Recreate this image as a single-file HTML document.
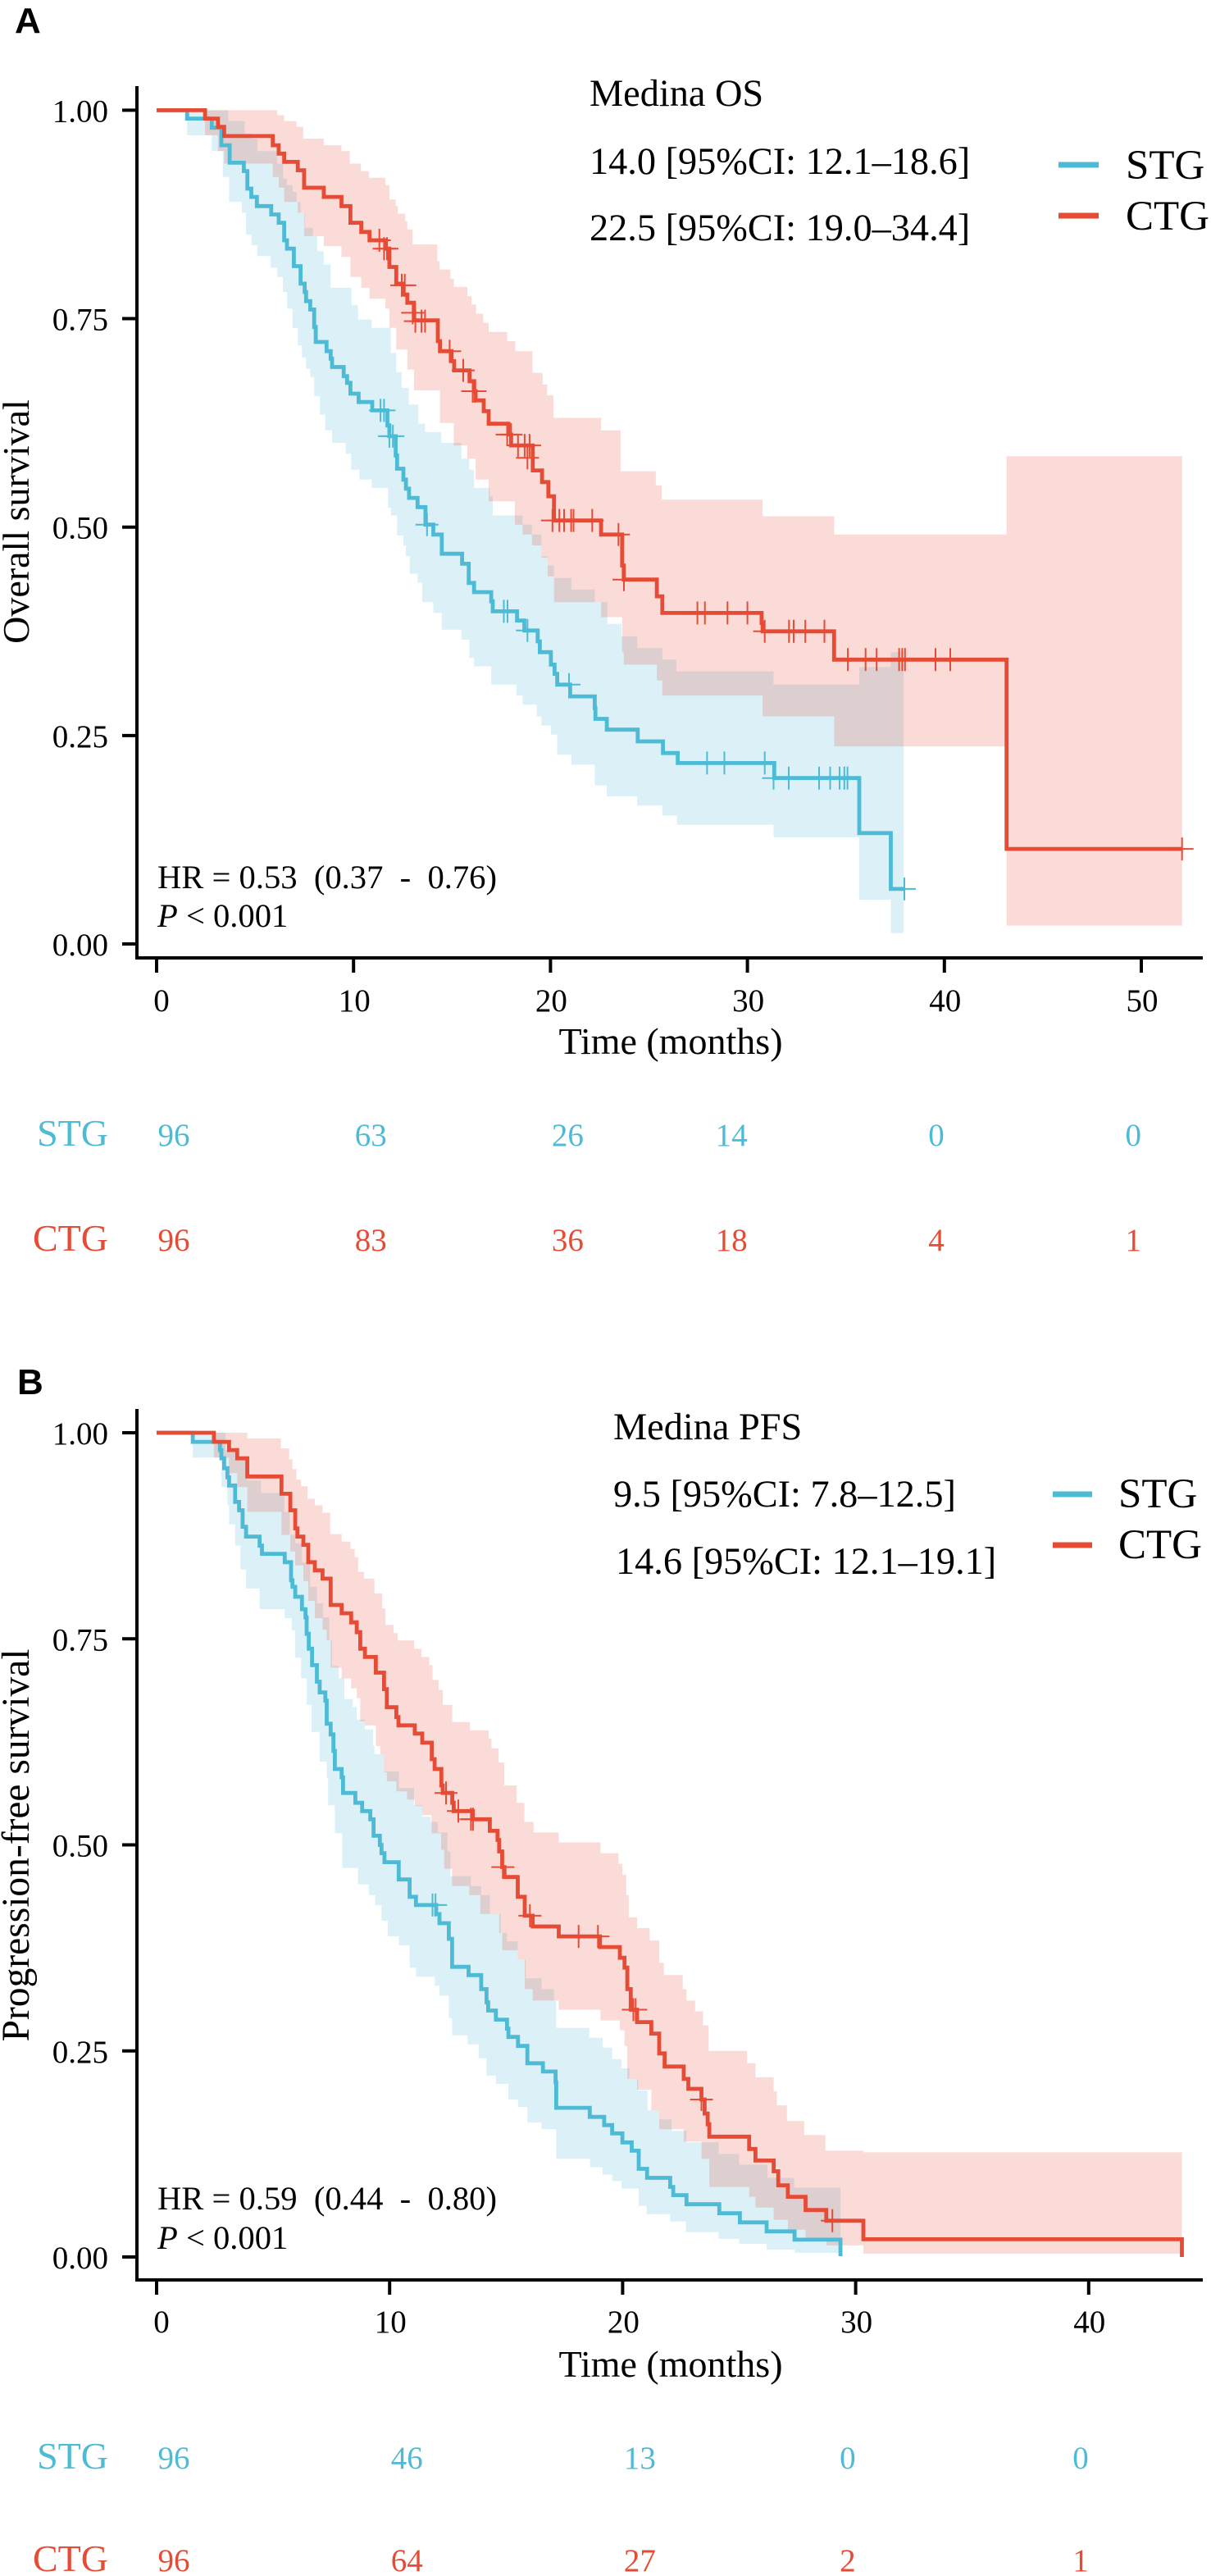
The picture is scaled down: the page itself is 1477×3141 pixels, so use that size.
<!DOCTYPE html>
<html lang="en">
<head>
<meta charset="utf-8">
<title>Kaplan-Meier survival curves</title>
<style>
html,body{margin:0;padding:0;background:#fff;}
svg{display:block;}
text{font-family:"Liberation Serif",serif;fill:#000;white-space:pre;}
</style>
</head>
<body>
<svg id="figure" xmlns="http://www.w3.org/2000/svg" width="1477" height="3141" viewBox="0 0 1477 3141">
  <rect x="0" y="0" width="1477" height="3141" fill="#fff"/>
  <text x="18" y="40" style="font-family:'Liberation Sans',sans-serif;font-weight:700;font-size:44px">A</text>
  <text x="21" y="1700" style="font-family:'Liberation Sans',sans-serif;font-weight:700;font-size:44px">B</text>

  <g id="panel-a"></g>
  <g id="panel-b"></g>

  <text transform="translate(35,636) rotate(-90)" text-anchor="middle" font-size="46">Overall survival</text>
  <text x="818" y="1285" text-anchor="middle" font-size="46">Time (months)</text>
  <text x="719" y="129" font-size="46.3">Medina OS</text>
  <text x="719" y="212" font-size="46.3">14.0 [95%CI: 12.1–18.6]</text>
  <text x="719" y="293" font-size="46.3">22.5 [95%CI: 19.0–34.4]</text>
  <line x1="1291" x2="1340" y1="201" y2="201" stroke="#4DBBD5" stroke-width="7"/>
  <line x1="1291" x2="1340" y1="263" y2="263" stroke="#E64B35" stroke-width="7"/>
  <text x="1373" y="218" font-size="51">STG</text>
  <text x="1373" y="280" font-size="51">CTG</text>
  <text x="192" y="1083" font-size="40.6">HR = 0.53  (0.37  -  0.76)</text>
  <text x="192" y="1130" font-size="40.6"><tspan font-style="italic">P</tspan> &lt; 0.001</text>
  <text x="132" y="1397" text-anchor="end" font-size="46" style="fill:#4DBBD5">STG</text>
  <text x="132" y="1525" text-anchor="end" font-size="46" style="fill:#E64B35">CTG</text>

  <text transform="translate(35,2250) rotate(-90)" text-anchor="middle" font-size="47.5">Progression-free survival</text>
  <text x="818" y="2898" text-anchor="middle" font-size="46">Time (months)</text>
  <text x="748" y="1755" font-size="46.3">Medina PFS</text>
  <text x="748" y="1837" font-size="46.3">9.5 [95%CI: 7.8–12.5]</text>
  <text x="751" y="1919" font-size="46.3">14.6 [95%CI: 12.1–19.1]</text>
  <line x1="1284" x2="1332" y1="1822" y2="1822" stroke="#4DBBD5" stroke-width="7"/>
  <line x1="1284" x2="1332" y1="1884" y2="1884" stroke="#E64B35" stroke-width="7"/>
  <text x="1364" y="1838" font-size="51">STG</text>
  <text x="1364" y="1900" font-size="51">CTG</text>
  <text x="192" y="2694" font-size="40.6">HR = 0.59  (0.44  -  0.80)</text>
  <text x="192" y="2742" font-size="40.6"><tspan font-style="italic">P</tspan> &lt; 0.001</text>
  <text x="132" y="3010" text-anchor="end" font-size="46" style="fill:#4DBBD5">STG</text>
  <text x="132" y="3135" text-anchor="end" font-size="46" style="fill:#E64B35">CTG</text>
</svg>
<script>
// Shared tick labels
const survivalTicks = ["0.00", "0.25", "0.50", "0.75", "1.00"];
const osTimeTicks = [0, 10, 20, 30, 40, 50];
const pfsTimeTicks = [0, 10, 20, 30, 40];

// Numbers at risk
const osRiskStg = [96, 63, 26, 14, 0, 0];
const osRiskCtg = [96, 83, 36, 18, 4, 1];
const pfsRiskStg = [96, 46, 13, 0, 0];
const pfsRiskCtg = [96, 64, 27, 2, 1];

// Panel A: [time in months, survival]
const osStgLine = [[0,1],[1.55,.990],[2.80,.979],[3.29,.958],[3.71,.937],[4.43,.927],[4.61,.906],[4.81,.896],[5.09,.885],[5.82,.875],[6.20,.865],[6.48,.844],[6.62,.834],[6.97,.813],[7.31,.792],[7.52,.782],[7.59,.771],[7.80,.761],[8.00,.740],[8.08,.722],[8.63,.711],[8.84,.702],[8.91,.692],[9.5,.681],[9.67,.673],[9.84,.660],[10.26,.650],[10.95,.640],[11.72,.622],[11.82,.609],[12.14,.586],[12.21,.570],[12.53,.557],[12.66,.546],[12.82,.535],[13.25,.524],[13.65,.503],[14.05,.491],[14.48,.468],[15.51,.456],[15.85,.433],[16.12,.422],[16.99,.411],[17.07,.399],[18.3,.388],[18.67,.376],[19.35,.363],[19.46,.350],[20.02,.335],[20.21,.324],[20.34,.311],[21.0,.297],[22.25,.283],[22.28,.270],[22.86,.257],[24.43,.243],[25.71,.229],[26.46,.217],[31.36,.199],[35.68,.133],[37.28,.066],[37.97,.066]];
const osStgUpper = [[1.55,1],[3.64,.987],[4.47,.972],[4.82,.966],[5.12,.951],[6.13,.936],[6.42,.918],[6.62,.910],[6.9,.902],[7.11,.890],[7.31,.877],[7.52,.859],[7.94,.849],[8.15,.831],[8.49,.815],[8.84,.787],[9.9,.766],[10.23,.749],[10.92,.739],[11.89,.709],[12.17,.686],[12.45,.667],[12.8,.647],[13.28,.624],[13.63,.614],[14.46,.601],[15.48,.582],[15.88,.569],[16.12,.547],[16.91,.537],[17.07,.514],[18.59,.503],[19.06,.491],[19.54,.465],[19.86,.454],[20.18,.439],[21.06,.425],[22.25,.410],[22.89,.384],[23.6,.369],[24.4,.355],[25.68,.341],[26.39,.327],[31.33,.311],[35.68,.332],[37.28,.350],[37.93,.350]];
const osStgLower = [[1.55,.970],[2.8,.951],[3.36,.920],[3.68,.890],[4.33,.877],[4.54,.851],[4.82,.838],[5.12,.825],[5.79,.811],[6.13,.800],[6.41,.782],[6.62,.762],[6.9,.739],[7.17,.718],[7.38,.703],[7.59,.690],[7.8,.680],[8.0,.657],[8.29,.635],[8.56,.616],[8.91,.601],[9.6,.588],[9.88,.569],[10.3,.557],[10.92,.547],[11.75,.523],[11.9,.514],[12.21,.490],[12.53,.478],[12.66,.465],[12.85,.444],[13.25,.433],[13.49,.410],[14.05,.397],[14.48,.377],[15.48,.365],[15.88,.343],[16.12,.333],[16.99,.311],[18.27,.298],[18.59,.287],[19.3,.273],[19.54,.262],[20.02,.251],[20.34,.227],[21.06,.215],[22.25,.190],[22.86,.177],[24.4,.166],[25.68,.154],[26.42,.143],[31.33,.128],[35.68,.053],[37.28,.013],[37.93,.013]];
const osStgCensored = [[11.37,.640],[11.55,.640],[11.82,.609],[12.0,.609],[13.73,.503],[17.63,.399],[17.82,.399],[18.83,.376],[20.94,.311],[27.95,.217],[28.83,.217],[30.88,.217],[31.33,.199],[32.1,.199],[33.64,.199],[34.2,.199],[34.68,.199],[34.92,.199],[35.08,.199],[37.97,.066]];

const osCtgLine = [[0,1],[2.46,.990],[3.12,.980],[3.43,.969],[5.9,.958],[6.2,.948],[6.48,.938],[7.17,.928],[7.49,.907],[8.49,.896],[9.39,.885],[9.84,.865],[10.39,.854],[10.81,.844],[11.62,.834],[11.82,.812],[12.17,.792],[12.52,.779],[12.73,.769],[13.07,.748],[14.28,.723],[14.39,.711],[14.97,.699],[15.11,.688],[15.89,.675],[16.13,.663],[16.2,.652],[16.61,.639],[16.86,.624],[17.86,.611],[18.0,.598],[19.1,.568],[19.57,.554],[19.89,.537],[20.18,.508],[22.57,.491],[23.64,.454],[23.72,.437],[25.4,.417],[25.68,.397],[30.72,.385],[30.77,.375],[34.4,.341],[43.16,.114],[52.07,.114]];
const osCtgUpper = [[2.46,1],[6.13,.994],[6.48,.987],[7.1,.980],[7.45,.966],[8.49,.958],[9.39,.951],[9.81,.936],[10.37,.927],[10.78,.919],[11.62,.910],[11.82,.893],[12.14,.885],[12.25,.876],[12.62,.867],[12.73,.857],[13.0,.839],[14.25,.819],[14.37,.809],[14.92,.798],[15.09,.788],[15.78,.777],[15.99,.767],[16.22,.756],[16.58,.745],[16.86,.734],[17.8,.723],[18.21,.711],[19.08,.685],[19.6,.671],[19.83,.658],[20.15,.631],[22.57,.616],[23.56,.567],[25.35,.550],[25.65,.533],[30.77,.513],[34.4,.491],[43.16,.585],[52.07,.585]];
const osCtgLower = [[2.46,.970],[3.12,.951],[3.43,.936],[5.9,.920],[6.2,.907],[6.48,.890],[7.17,.877],[7.49,.849],[8.49,.837],[9.39,.824],[9.84,.800],[10.39,.787],[10.81,.774],[11.62,.762],[11.82,.739],[12.17,.713],[12.73,.689],[13.07,.664],[14.39,.625],[15.09,.598],[15.78,.582],[16.2,.557],[16.86,.531],[18.19,.503],[18.59,.491],[19.06,.478],[19.54,.463],[19.86,.441],[20.18,.410],[22.57,.392],[23.64,.350],[23.72,.335],[25.4,.316],[25.68,.298],[30.77,.273],[34.4,.237],[43.16,.022],[52.07,.022]];
const osCtgCensored = [[11.31,.844],[11.55,.834],[11.7,.834],[12.45,.790],[12.6,.790],[13.0,.757],[13.14,.747],[13.45,.747],[13.63,.747],[14.88,.711],[15.57,.688],[16.05,.663],[16.17,.663],[17.8,.611],[18.0,.611],[18.35,.598],[18.69,.598],[18.94,.598],[18.83,.583],[20.1,.508],[20.45,.508],[20.69,.508],[21.05,.508],[21.17,.508],[22.12,.508],[23.45,.491],[23.73,.437],[27.46,.397],[27.84,.397],[28.99,.397],[30.0,.397],[30.88,.375],[32.11,.375],[32.35,.375],[32.94,.375],[33.91,.375],[35.1,.341],[36.0,.341],[36.56,.341],[37.7,.341],[37.86,.341],[38.0,.341],[39.55,.341],[40.3,.341],[52.07,.114]];

// Panel B: [time in months, survival]
const pfsStgLine = [[0,1],[1.55,.989],[2.72,.979],[2.78,.969],[2.9,.957],[3.04,.946],[3.11,.936],[3.37,.916],[3.54,.906],[3.69,.886],[3.84,.874],[4.42,.863],[4.52,.853],[5.5,.843],[5.77,.821],[5.83,.813],[5.95,.801],[6.24,.786],[6.39,.776],[6.44,.756],[6.53,.738],[6.67,.718],[6.88,.698],[7.0,.685],[7.24,.675],[7.3,.647],[7.47,.634],[7.59,.614],[7.65,.592],[7.94,.582],[8.0,.563],[8.53,.551],[8.82,.541],[9.17,.531],[9.31,.511],[9.58,.500],[9.65,.490],[9.78,.479],[10.39,.458],[10.86,.437],[11.13,.427],[12.0,.416],[12.14,.405],[12.54,.386],[12.68,.352],[13.39,.342],[13.93,.325],[14.16,.309],[14.23,.299],[14.56,.288],[15.04,.277],[15.1,.267],[15.51,.256],[15.91,.235],[16.58,.225],[17.12,.212],[17.15,.181],[18.59,.170],[19.21,.160],[19.55,.150],[19.99,.139],[20.39,.129],[20.69,.107],[21.05,.096],[22.04,.085],[22.17,.075],[22.74,.064],[24.15,.053],[25.03,.042],[26.18,.031],[27.38,.021],[29.35,.001]];
const pfsStgUpper = [[1.55,1],[2.96,.979],[3.48,.969],[3.89,.942],[4.48,.927],[5.48,.904],[5.71,.876],[5.95,.866],[6.24,.843],[6.59,.813],[6.88,.793],[7.14,.776],[7.41,.748],[7.53,.717],[7.82,.702],[8.06,.677],[8.41,.667],[8.59,.652],[8.94,.640],[9.29,.620],[9.35,.610],[9.76,.589],[10.4,.569],[11.05,.548],[11.4,.534],[11.76,.528],[12.07,.515],[12.48,.492],[12.61,.462],[13.49,.450],[13.93,.439],[14.3,.416],[14.77,.393],[15.03,.383],[15.5,.361],[15.84,.338],[16.52,.325],[17.05,.311],[17.15,.278],[18.56,.266],[19.14,.254],[19.55,.240],[19.95,.229],[20.29,.216],[20.66,.202],[21.07,.178],[21.57,.167],[22.1,.153],[22.74,.139],[24.12,.125],[25.0,.112],[26.21,.096],[27.36,.084],[29.35,.084]];
const pfsStgLower = [[1.55,.970],[2.78,.934],[3.04,.912],[3.11,.889],[3.37,.863],[3.6,.834],[3.84,.811],[4.42,.786],[5.5,.775],[5.8,.760],[5.95,.727],[6.2,.702],[6.44,.670],[6.65,.637],[7.0,.601],[7.3,.581],[7.36,.548],[7.65,.514],[7.97,.472],[8.64,.452],[9.11,.439],[9.38,.427],[9.65,.408],[9.92,.389],[10.39,.378],[10.86,.351],[11.13,.340],[11.94,.329],[12.14,.317],[12.54,.290],[12.68,.269],[13.35,.258],[13.82,.241],[14.16,.220],[14.56,.210],[15.1,.191],[15.51,.182],[15.91,.163],[16.52,.155],[17.15,.119],[18.6,.109],[19.14,.100],[19.55,.092],[19.95,.083],[20.69,.062],[21.03,.052],[22.04,.043],[22.71,.030],[24.12,.022],[25.0,.016],[26.18,.009],[27.38,.005],[29.35,.005]];
const pfsStgCensored = [[11.84,.427],[11.97,.427]];

const pfsCtgLine = [[0,1],[2.46,.989],[3.11,.979],[3.46,.969],[3.89,.947],[5.36,.926],[5.74,.906],[5.95,.884],[6.04,.874],[6.3,.864],[6.51,.843],[6.79,.833],[7.12,.823],[7.47,.791],[7.94,.781],[8.35,.770],[8.59,.758],[8.74,.738],[8.94,.728],[9.41,.709],[9.76,.689],[9.88,.667],[10.29,.655],[10.38,.645],[11.08,.635],[11.4,.624],[11.81,.604],[11.93,.592],[12.22,.572],[12.28,.563],[12.69,.551],[12.75,.541],[13.57,.531],[14.3,.517],[14.63,.506],[14.7,.492],[14.83,.473],[14.93,.461],[15.5,.437],[15.8,.414],[16.14,.401],[17.26,.389],[19.03,.376],[19.88,.363],[20.08,.351],[20.2,.325],[20.35,.300],[20.62,.285],[21.23,.271],[21.57,.247],[21.8,.231],[22.62,.216],[22.82,.204],[23.38,.191],[23.52,.174],[23.65,.161],[23.72,.146],[25.43,.131],[25.7,.117],[26.48,.104],[26.68,.087],[27.09,.073],[27.85,.057],[28.74,.044],[30.33,.0215],[44.0,0]];
const pfsCtgUpper = [[2.46,1],[3.89,.993],[5.33,.981],[5.69,.968],[5.83,.956],[6.0,.943],[6.2,.935],[6.48,.920],[6.79,.912],[7.12,.903],[7.45,.877],[7.94,.868],[8.32,.859],[8.5,.849],[8.65,.831],[8.9,.823],[9.35,.805],[9.68,.787],[9.82,.767],[10.17,.757],[10.35,.748],[11.05,.738],[11.37,.728],[11.7,.718],[11.84,.700],[12.1,.688],[12.28,.670],[12.69,.649],[13.45,.639],[14.25,.629],[14.37,.617],[14.68,.600],[14.92,.572],[15.45,.551],[15.78,.528],[16.18,.515],[17.26,.503],[19.05,.490],[19.82,.477],[19.99,.464],[20.15,.439],[20.26,.412],[20.62,.399],[21.16,.384],[21.57,.357],[21.77,.342],[22.58,.325],[22.74,.311],[23.11,.298],[23.45,.281],[23.69,.250],[25.34,.235],[25.7,.218],[26.48,.201],[26.62,.184],[27.05,.165],[27.79,.148],[28.7,.129],[30.33,.127],[44.0,.127]];
const pfsCtgLower = [[2.46,.970],[3.11,.951],[3.46,.934],[3.89,.904],[5.36,.876],[5.74,.856],[5.95,.839],[6.3,.820],[6.51,.796],[6.79,.775],[7.12,.761],[7.3,.748],[7.47,.715],[7.94,.702],[8.35,.690],[8.59,.678],[8.74,.650],[8.94,.645],[9.41,.620],[9.6,.610],[9.76,.588],[9.88,.577],[10.29,.565],[10.75,.555],[11.08,.547],[11.4,.536],[11.8,.514],[12.21,.494],[12.34,.471],[12.68,.450],[13.42,.439],[13.89,.416],[14.7,.393],[14.83,.372],[15.5,.361],[15.8,.325],[16.14,.311],[17.26,.300],[19.05,.287],[19.88,.275],[20.08,.256],[20.2,.216],[20.62,.203],[21.23,.178],[21.57,.155],[22.62,.140],[23.38,.119],[23.72,.085],[25.43,.073],[25.7,.060],[26.48,.045],[27.09,.033],[27.85,.022],[28.74,.014],[30.33,.004],[44.0,.004]];
const pfsCtgCensored = [[12.42,.563],[12.95,.541],[13.49,.531],[13.58,.531],[14.86,.473],[16.02,.414],[18.11,.389],[18.94,.389],[20.46,.300],[20.56,.300],[23.38,.191],[29.0,.044]];

const SVG_NS = "http://www.w3.org/2000/svg";
const STG_COLOR = "#4DBBD5";
const CTG_COLOR = "#E64B35";

function makeEl(tag, parent, attrs) {
  const el = document.createElementNS(SVG_NS, tag);
  for (const k in attrs) el.setAttribute(k, attrs[k]);
  parent.appendChild(el);
  return el;
}

function linePath(pts, x, y) {
  let d = "M" + x(pts[0][0]).toFixed(1) + " " + y(pts[0][1]).toFixed(1);
  for (let i = 1; i < pts.length; i++) {
    d += "H" + x(pts[i][0]).toFixed(1) + "V" + y(pts[i][1]).toFixed(1);
  }
  return d;
}

function bandPath(upper, lower, x, y) {
  let d = "M" + x(upper[0][0]).toFixed(1) + " " + y(upper[0][1]).toFixed(1);
  for (let i = 1; i < upper.length; i++) {
    d += "H" + x(upper[i][0]).toFixed(1) + "V" + y(upper[i][1]).toFixed(1);
  }
  const n = lower.length - 1;
  d += "L" + x(lower[n][0]).toFixed(1) + " " + y(lower[n][1]).toFixed(1);
  for (let i = n - 1; i >= 0; i--) {
    d += "V" + y(lower[i][1]).toFixed(1) + "H" + x(lower[i][0]).toFixed(1);
  }
  return d + "Z";
}

function drawBand(parent, upper, lower, color, x, y, name) {
  const el = makeEl("path", parent, {d: bandPath(upper, lower, x, y), fill: color, "fill-opacity": 0.2, stroke: "none"});
  
  
}

function drawCurve(parent, pts, color, x, y, name) {
  const el = makeEl("path", parent, {d: linePath(pts, x, y), fill: "none", stroke: color, "stroke-width": 4.8, "stroke-linejoin": "miter"});
  
  
}

function drawCensored(parent, pts, color, x, y, name) {
  const arm = 14;
  pts.forEach(function (p) {
    const cx = x(p[0]), cy = y(p[1]);
    const el = makeEl("path", parent, {
      d: "M" + (cx - arm).toFixed(1) + " " + cy.toFixed(1) + "H" + (cx + arm).toFixed(1) +
         "M" + cx.toFixed(1) + " " + (cy - arm).toFixed(1) + "V" + (cy + arm).toFixed(1),
      fill: "none", stroke: color, "stroke-width": 2
    });
    
    
  });
}

function drawPanel(cfg) {
  const g = document.getElementById(cfg.id);
  const x = function (t) { return cfg.x0 + cfg.xScale * t; };
  const y = function (s) { return cfg.y0 - cfg.yScale * s; };

  drawBand(g, cfg.stgUpper, cfg.stgLower, STG_COLOR, x, y, cfg.prefix + "-stg");
  drawBand(g, cfg.ctgUpper, cfg.ctgLower, CTG_COLOR, x, y, cfg.prefix + "-ctg");
  drawCurve(g, cfg.stgLine, STG_COLOR, x, y, cfg.prefix + "-stg");
  drawCurve(g, cfg.ctgLine, CTG_COLOR, x, y, cfg.prefix + "-ctg");
  drawCensored(g, cfg.stgCensored, STG_COLOR, x, y, cfg.prefix + "-stg");
  drawCensored(g, cfg.ctgCensored, CTG_COLOR, x, y, cfg.prefix + "-ctg");

  const yAxis = makeEl("line", g, {x1: 167, x2: 167, y1: cfg.axisTop, y2: cfg.axisY + 2, stroke: "#000", "stroke-width": 4});
  
  
  const xAxis = makeEl("line", g, {x1: 165, x2: 1467, y1: cfg.axisY, y2: cfg.axisY, stroke: "#000", "stroke-width": 4});
  
  

  survivalTicks.forEach(function (label) {
    const v = parseFloat(label);
    const tick = makeEl("line", g, {x1: 149, x2: 167, y1: y(v), y2: y(v), stroke: "#000", "stroke-width": 4});
    
    
    const txt = makeEl("text", g, {x: 132, y: y(v) + 14, "text-anchor": "end", "font-size": 39});
    txt.textContent = label;
    
    
  });

  cfg.ticks.forEach(function (t, i) {
    const tick = makeEl("line", g, {x1: x(t), x2: x(t), y1: cfg.axisY, y2: cfg.axisY + 18, stroke: "#000", "stroke-width": 4});
    
    
    const txt = makeEl("text", g, {x: x(t) + (t === 0 ? 6 : 1), y: cfg.xLabelY, "text-anchor": "middle", "font-size": 39});
    txt.textContent = String(t);
    
    

    const early = t < 25;
    const anchor = early ? "start" : "end";
    const px = early ? x(t) + 1.5 : x(t);
    const stgN = makeEl("text", g, {x: px, y: cfg.riskStgY, "text-anchor": anchor, "font-size": 39, style: "fill:" + STG_COLOR});
    stgN.textContent = String(cfg.riskStg[i]);
    
    
    const ctgN = makeEl("text", g, {x: px, y: cfg.riskCtgY, "text-anchor": anchor, "font-size": 39, style: "fill:" + CTG_COLOR});
    ctgN.textContent = String(cfg.riskCtg[i]);
    
    
  });
}

drawPanel({
  id: "panel-a", prefix: "os",
  x0: 191, xScale: 24.02, y0: 1151, yScale: 1016.6,
  axisTop: 105, axisY: 1168, xLabelY: 1233, riskStgY: 1397, riskCtgY: 1525,
  ticks: osTimeTicks, riskStg: osRiskStg, riskCtg: osRiskCtg,
  stgLine: osStgLine, stgUpper: osStgUpper, stgLower: osStgLower, stgCensored: osStgCensored,
  ctgLine: osCtgLine, ctgUpper: osCtgUpper, ctgLower: osCtgLower, ctgCensored: osCtgCensored
});

drawPanel({
  id: "panel-b", prefix: "pfs",
  x0: 191, xScale: 28.42, y0: 2752, yScale: 1005,
  axisTop: 1718, axisY: 2780, xLabelY: 2844, riskStgY: 3010, riskCtgY: 3135,
  ticks: pfsTimeTicks, riskStg: pfsRiskStg, riskCtg: pfsRiskCtg,
  stgLine: pfsStgLine, stgUpper: pfsStgUpper, stgLower: pfsStgLower, stgCensored: pfsStgCensored,
  ctgLine: pfsCtgLine, ctgUpper: pfsCtgUpper, ctgLower: pfsCtgLower, ctgCensored: pfsCtgCensored
});
</script>
</body>
</html>
